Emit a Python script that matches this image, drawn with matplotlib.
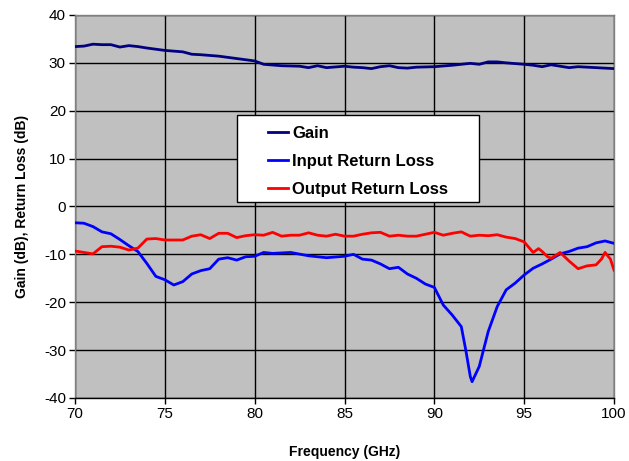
import matplotlib
matplotlib.use("Agg")
import matplotlib.pyplot as plt
from matplotlib.patches import Rectangle

plt.rcParams['font.family'] = ['Liberation Sans', 'DejaVu Sans']
plt.rcParams['axes.unicode_minus'] = False

gain_f = [70, 70.5, 71, 71.5, 72, 72.5, 73, 73.5, 74, 75, 76, 76.5, 77, 78, 79, 80,
          80.5, 81.5, 82.5, 83, 83.5, 84, 85, 85.5, 86, 86.5, 87, 87.5, 88, 88.5,
          89, 90, 91, 91.5, 92, 92.5, 93, 93.5, 94, 95, 95.5, 96, 96.5, 97, 97.5,
          98, 99, 100]
gain = [33.4, 33.5, 33.9, 33.8, 33.8, 33.3, 33.6, 33.4, 33.1, 32.6, 32.3, 31.8, 31.7,
        31.4, 30.9, 30.4, 29.7, 29.4, 29.3, 29.0, 29.4, 29.0, 29.3, 29.1, 29.0,
        28.8, 29.2, 29.4, 29.0, 28.9, 29.1, 29.2, 29.5, 29.7, 29.9, 29.7, 30.2,
        30.2, 30.0, 29.7, 29.5, 29.2, 29.6, 29.3, 29.0, 29.2, 29.0, 28.8]

in_f = [70, 70.5, 71, 71.5, 72, 72.5, 73, 73.5, 74, 74.5, 75, 75.5, 76, 76.5, 77,
        77.5, 78, 78.5, 79, 79.5, 80, 80.5, 81, 82, 83, 84, 85, 85.5, 86, 86.5,
        87, 87.5, 88, 88.5, 89, 89.5, 90, 90.5, 91, 91.5, 91.75, 92, 92.1, 92.5,
        93, 93.5, 94, 94.5, 95, 95.5, 96, 96.5, 97, 97.5, 98, 98.5, 99, 99.5, 100]
in_rl = [-3.4, -3.5, -4.2, -5.3, -5.7, -6.9, -8.2, -9.4, -11.9, -14.6, -15.3, -16.4,
         -15.7, -14.1, -13.4, -13.0, -11.0, -10.7, -11.2, -10.5, -10.4, -9.6, -9.8,
         -9.6, -10.3, -10.7, -10.4, -10.0, -11.0, -11.2, -12.0, -13.0, -12.7, -14.1,
         -15.0, -16.2, -16.9, -20.6, -22.7, -25.1, -30.0, -35.5, -36.6, -33.4, -26.1,
         -20.9, -17.4, -16.0, -14.3, -12.9, -12.0, -11.0, -9.9, -9.4, -8.7, -8.4,
         -7.6, -7.2, -7.7]

out_f = [70, 70.5, 71, 71.5, 72, 72.5, 73, 73.5, 74, 74.5, 75, 76, 76.5, 77, 77.5,
         78, 78.5, 79, 79.5, 80, 80.5, 81, 81.5, 82, 82.5, 83, 83.5, 84, 84.5, 85,
         85.5, 86, 86.5, 87, 87.5, 88, 88.5, 89, 89.5, 90, 90.5, 91, 91.5, 92, 92.5,
         93, 93.5, 94, 94.5, 95, 95.5, 95.8, 96, 96.3, 96.5, 96.8, 97, 97.5, 98,
         98.5, 99, 99.3, 99.5, 99.8, 100]
out_rl = [-9.3, -9.6, -9.9, -8.4, -8.3, -8.5, -9.1, -8.7, -6.8, -6.7, -7.0, -7.0,
          -6.2, -5.9, -6.7, -5.6, -5.6, -6.5, -6.1, -5.9, -6.0, -5.4, -6.2, -6.0,
          -6.0, -5.5, -6.0, -6.2, -5.8, -6.2, -6.2, -5.8, -5.5, -5.4, -6.2, -6.0,
          -6.2, -6.2, -5.8, -5.4, -6.0, -5.6, -5.3, -6.2, -6.0, -6.1, -5.9, -6.4,
          -6.7, -7.4, -9.6, -8.8, -9.4, -10.5, -10.8, -10.1, -9.6, -11.4, -13.0,
          -12.4, -12.2, -11.0, -9.6, -11.0, -13.3]

x_ticks = [70, 75, 80, 85, 90, 95, 100]
y_ticks = [-40, -30, -20, -10, 0, 10, 20, 30, 40]

fig = plt.figure(figsize=(6.29, 4.61), dpi=100)
ax = fig.add_axes([0.1192, 0.1367, 0.857, 0.8308])
ax.set_facecolor('#C0C0C0')

ax.plot(gain_f, gain, color='#000080', lw=2.0, label='Gain', zorder=3)
ax.plot(in_f, in_rl, color='#0000FF', lw=2.0, label='Input Return Loss', zorder=3)
ax.plot(out_f, out_rl, color='#FF0000', lw=2.0, label='Output Return Loss', zorder=3)

ax.set_xlim(70, 100)
ax.set_ylim(-40, 40)
ax.set_xticks(x_ticks)
ax.set_yticks(y_ticks)
ax.grid(True, color='black', lw=1.0, zorder=1)
ax.set_axisbelow(True)
for s in ax.spines.values():
    s.set_color('#808080')
    s.set_linewidth(1.0)
ax.spines['bottom'].set_color('black')
ax.tick_params(direction='out', length=4.5, width=1, labelsize=11, colors='black', pad=2)

ax.set_xlabel('Frequency (GHz)', fontsize=10, fontweight='bold', labelpad=17)
ax.set_ylabel('Gain (dB), Return Loss (dB)', fontsize=10, fontweight='bold', labelpad=11)

# legend frame box
ax.add_patch(Rectangle((0.3006, 0.5117), 0.4490, 0.2272, transform=ax.transAxes,
                       facecolor='white', edgecolor='black', lw=1.0, zorder=4))
leg = ax.legend(loc='upper left', bbox_to_anchor=(0.358, 0.711),
                prop={'weight': 'bold', 'size': 12}, frameon=False,
                handlelength=1.2, handletextpad=0.27, borderpad=0,
                labelspacing=0.79, borderaxespad=0)
leg.set_zorder(5)

fig.savefig('out.png', dpi=100)
